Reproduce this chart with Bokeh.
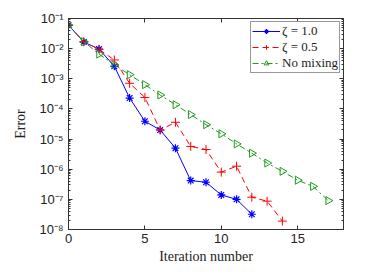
import math
from bokeh.plotting import figure
from bokeh.models import (LogAxis, LinearAxis, Legend, LegendItem, CustomJSTickFormatter,
                          FixedTicker, LogTicker, Range1d)
from bokeh.embed import file_html
from bokeh.resources import INLINE

iters_a = list(range(0, 13))
err_a = [0.06, 0.0165, 0.0097, 0.0026, 2.3e-4, 3.9e-5, 2.0e-5, 5.0e-6, 4.2e-7, 3.7e-7, 1.4e-7, 1.0e-7, 3.2e-8]
iters_b = list(range(0, 15))
err_b = [0.06, 0.017, 0.0095, 4.2e-3, 7.1e-4, 2.4e-4, 2.0e-5, 3.6e-5, 5.7e-6, 4.5e-6, 8.0e-7, 1.26e-6, 1.18e-7, 8.7e-8, 1.9e-8]
iters_c = list(range(0, 18))
err_c = [0.06, 0.017, 6.6e-3, 2.9e-3, 1.37e-3, 6.4e-4, 2.9e-4, 1.38e-4, 6.5e-5, 3.0e-5, 1.5e-5, 6.9e-6, 3.4e-6, 1.6e-6, 8.5e-7, 4.3e-7, 2.7e-7, 9.1e-8]
labels = ["\u03b6 = 1.0", "\u03b6 = 0.5", "No mixing"]
x_ticks = [0, 5, 10, 15]

SERIF = "'Liberation Serif', serif"
SANS = "Liberation Sans"

p = figure(width=360, height=270, output_backend="svg", toolbar_location=None,
           y_axis_type="log", x_range=Range1d(0, 18), y_range=Range1d(1e-8, 1e-1),
           min_border_left=68, min_border_right=17, min_border_top=18, min_border_bottom=41)
p.background_fill_color = "white"
p.border_fill_color = "white"
p.outline_line_color = "#333333"
p.outline_line_width = 1
p.xgrid.visible = False
p.ygrid.visible = False

fmt = CustomJSTickFormatter(code="""
const sup = {'-':'\u207b','0':'\u2070','1':'\u00b9','2':'\u00b2','3':'\u00b3','4':'\u2074','5':'\u2075','6':'\u2076','7':'\u2077','8':'\u2078','9':'\u2079'};
const e = Math.round(Math.log10(tick));
return '10' + String(e).split('').map(c => sup[c]).join('');
""")

def style_axis(ax, labels_on):
    ax.axis_line_color = "#333333"
    ax.major_tick_line_color = "#333333"
    ax.minor_tick_line_color = "#333333"
    ax.major_tick_in = 4
    ax.major_tick_out = 0
    ax.minor_tick_in = 2
    ax.minor_tick_out = 0
    ax.major_label_text_font = SANS
    ax.major_label_text_font_size = "13px"
    ax.major_label_text_color = "#222222"
    if not labels_on:
        ax.major_label_text_font_size = "0px"
        ax.major_label_text_color = None

xa = p.xaxis[0]
xa.ticker = FixedTicker(ticks=x_ticks, minor_ticks=[])
style_axis(xa, True)
xa.axis_label = "Iteration number"
xa.axis_label_text_font = SERIF
xa.axis_label_text_font_style = "normal"
xa.axis_label_text_font_size = "14px"
xa.axis_label_text_color = "#222222"
xa.axis_label_standoff = 3
xa.major_label_standoff = 4

ya = p.yaxis[0]
ya.ticker = LogTicker(desired_num_ticks=8, num_minor_ticks=10)
ya.formatter = fmt
style_axis(ya, True)
ya.axis_label = "Error"
ya.axis_label_text_font = SERIF
ya.axis_label_text_font_style = "normal"
ya.axis_label_text_font_size = "14px"
ya.axis_label_text_color = "#222222"
ya.axis_label_standoff = 8
ya.major_label_standoff = 5

top = LinearAxis(ticker=FixedTicker(ticks=x_ticks, minor_ticks=[]))
style_axis(top, False)
p.add_layout(top, "above")
right = LogAxis(ticker=LogTicker(desired_num_ticks=8, num_minor_ticks=10))
style_axis(right, False)
p.add_layout(right, "right")

blue = "#0000ff"
red = "#ff0000"
green = "#1f9a1f"

la = p.line(iters_a, err_a, line_color=blue, line_width=1)
sa = p.scatter(iters_a, err_a, marker="asterisk", size=8, line_color=blue, line_width=1.2)
lb = p.line(iters_b, err_b, line_color=red, line_width=1, line_dash="6 4")
sb = p.scatter(iters_b, err_b, marker="cross", size=9, line_color=red, line_width=1)
lc = p.line(iters_c, err_c, line_color=green, line_width=1, line_dash="6 3 2 3")
sc = p.scatter(iters_c, err_c, marker="triangle", angle=-math.pi / 2, size=8,
               line_color=green, fill_color=None, line_width=1)

legend = Legend(items=[LegendItem(label=labels[0], renderers=[la, sa]),
                       LegendItem(label=labels[1], renderers=[lb, sb]),
                       LegendItem(label=labels[2], renderers=[lc, sc])],
                location="top_right")
legend.label_text_font = SERIF
legend.label_text_font_size = "13px"
legend.label_text_color = "#222222"
legend.label_standoff = 2
legend.glyph_width = 28
legend.glyph_height = 12
legend.label_height = 12
legend.spacing = 0
legend.padding = 1
legend.margin = 3
legend.border_line_color = "#333333"
legend.border_line_width = 1
legend.background_fill_alpha = 1
p.add_layout(legend)

open("out.html", "w").write(file_html(p, INLINE))
